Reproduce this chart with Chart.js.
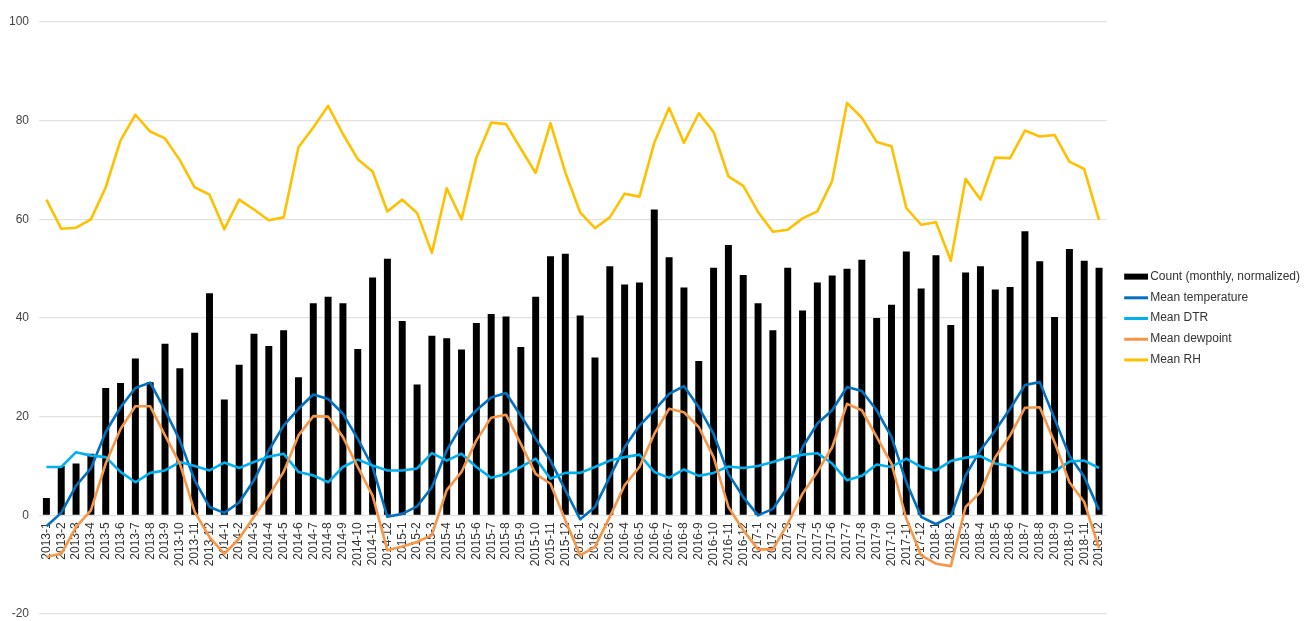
<!DOCTYPE html>
<html>
<head>
<meta charset="utf-8">
<title>Monthly count and weather</title>
<script src="https://cdn.jsdelivr.net/npm/chart.js@4.4.1/dist/chart.umd.min.js"></script>
<style>
  html, body { margin: 0; padding: 0; background: #fff; }
  #wrap { width: 1306px; height: 621px; }
</style>
</head>
<body>
<div id="wrap"><canvas id="chart" width="1306" height="621"></canvas></div>
<script>
const months = [
  '2013-1', '2013-2', '2013-3', '2013-4', '2013-5', '2013-6', '2013-7', '2013-8', '2013-9', '2013-10', '2013-11', '2013-12',
  '2014-1', '2014-2', '2014-3', '2014-4', '2014-5', '2014-6', '2014-7', '2014-8', '2014-9', '2014-10', '2014-11', '2014-12',
  '2015-1', '2015-2', '2015-3', '2015-4', '2015-5', '2015-6', '2015-7', '2015-8', '2015-9', '2015-10', '2015-11', '2015-12',
  '2016-1', '2016-2', '2016-3', '2016-4', '2016-5', '2016-6', '2016-7', '2016-8', '2016-9', '2016-10', '2016-11', '2016-12',
  '2017-1', '2017-2', '2017-3', '2017-4', '2017-5', '2017-6', '2017-7', '2017-8', '2017-9', '2017-10', '2017-11', '2017-12',
  '2018-1', '2018-2', '2018-3', '2018-4', '2018-5', '2018-6', '2018-7', '2018-8', '2018-9', '2018-10', '2018-11', '2018-12',
];

// count per month, already normalized
const countMonthly = [
  3.5, 10, 10.5, 12.5, 25.8, 26.8, 31.8, 27, 34.8, 29.8, 37, 45,
  23.5, 30.5, 36.8, 34.3, 37.5, 28, 43, 44.3, 43, 33.7, 48.2, 52,
  39.4, 26.5, 36.4, 35.9, 33.6, 39, 40.8, 40.3, 34.1, 44.3, 52.5, 53,
  40.5, 32, 50.5, 46.8, 47.2, 62, 52.3, 46.2, 31.3, 50.2, 54.8, 48.7,
  43, 37.5, 50.2, 41.5, 47.2, 48.6, 50, 51.8, 40, 42.7, 53.5, 46,
  52.7, 38.6, 49.2, 50.5, 45.8, 46.3, 57.6, 51.5, 40.2, 54, 51.6, 50.2,
];

const meanTemp = [
  -2.2, 0.5, 6, 9.5, 16.9, 21.9, 25.8, 26.9, 21.3, 15.2, 7.1, 1.7,
  0.5, 2.6, 7.1, 13.2, 18.2, 21.6, 24.5, 23.6, 20.6, 15.5, 9.8, -0.3,
  0.3, 1.8, 5.7, 13.2, 18.2, 21.3, 23.9, 24.8, 20.2, 15.5, 11.1, 5.1,
  -0.8, 1.7, 7.8, 13.8, 18.2, 21.3, 24.6, 26.2, 21.9, 16.5, 8.4, 3.7,
  0, 1.3, 5.7, 13.8, 18.6, 21.3, 26, 25.2, 21.3, 15.9, 6.7, -0.3,
  -1.8, -0.2, 8.1, 13.2, 17.2, 21.6, 26.4, 27, 19.6, 12.1, 7.8, 1.1,
];

const meanDTR = [
  9.8, 9.8, 12.8, 12.1, 11.8, 8.8, 6.7, 8.6, 9.1, 10.8, 10, 9.1,
  10.7, 9.6, 10.8, 11.9, 12.5, 8.8, 8.1, 6.7, 9.8, 11.3, 10.1, 9.1,
  9.1, 9.5, 12.6, 11.1, 12.5, 9.8, 7.6, 8.4, 9.8, 11.5, 7.4, 8.6,
  8.6, 9.8, 11.1, 11.8, 12.3, 8.8, 7.6, 9.3, 8, 8.6, 9.9, 9.6,
  10, 10.8, 11.7, 12.3, 12.6, 10.5, 7.1, 8, 10.3, 9.8, 11.5, 9.8,
  9.1, 11, 11.7, 12, 10.5, 10, 8.6, 8.6, 8.9, 10.9, 11.1, 9.6,
];

const meanDewpoint = [
  -8.4, -7.8, -2.4, 1, 10.5, 17.5, 22.1, 22.1, 16.2, 10.5, 0.7, -4.4,
  -7.8, -4.7, -0.3, 4, 8.8, 16.2, 20.1, 20, 15.9, 9.8, 4, -7.1,
  -6.3, -5.4, -4, 5.1, 8.8, 15.2, 19.8, 20.4, 14.5, 8.4, 6.4, -1,
  -8.1, -6.4, -0.3, 6.1, 9.8, 16.5, 21.6, 20.9, 17.9, 11.8, 1.7, -3,
  -6.9, -6.9, -1.7, 4.4, 8.8, 13.8, 22.6, 21.3, 15.9, 10.5, -0.7, -8.1,
  -9.8, -10.3, 1.7, 4.7, 11.8, 16.2, 21.8, 21.9, 14.8, 6.7, 2.7, -6.7,
];

const meanRH = [
  64, 58.1, 58.3, 60, 66.5, 76, 81.2, 77.8, 76.4, 72, 66.5, 65,
  58, 64, 62, 59.8, 60.4, 74.6, 78.6, 83, 77.3, 72.2, 69.7, 61.6,
  64, 61.3, 53.2, 66.3, 60, 72.5, 79.6, 79.3, 74.3, 69.4, 79.5, 69.5,
  61.4, 58.2, 60.4, 65.2, 64.6, 75.5, 82.6, 75.5, 81.5, 77.7, 68.7, 66.8,
  61.5, 57.5, 57.9, 60.2, 61.6, 67.8, 83.6, 80.6, 75.7, 74.8, 62.3, 58.9,
  59.4, 51.6, 68.2, 64, 72.5, 72.4, 78, 76.8, 77.1, 71.7, 70.2, 59.9,
];

const yTicks = [-20, 0, 20, 40, 60, 80, 100];

const FONT = "'Liberation Sans', Arial, sans-serif";

// legend swatch: transparent lead-in, then a 24px block (bars) or stroke (lines)
function swatch(color, thickness) {
  const c = document.createElement('canvas');
  c.width = 37;
  c.height = 8;
  const g = c.getContext('2d');
  g.fillStyle = color;
  g.fillRect(13, Math.round((8 - thickness) / 2), 24, thickness);
  return c;
}

const lineSeries = [
  { label: 'Mean temperature', data: meanTemp, color: '#0070C0' },
  { label: 'Mean DTR', data: meanDTR, color: '#00B0F0' },
  { label: 'Mean dewpoint', data: meanDewpoint, color: '#F79646' },
  { label: 'Mean RH', data: meanRH, color: '#FFC000' },
];

const datasets = [
  {
    type: 'bar',
    label: 'Count (monthly, normalized)',
    data: countMonthly,
    backgroundColor: '#000000',
    barPercentage: 0.47,
    categoryPercentage: 1,
    order: 10,
    swatch: swatch('#000000', 6),
  },
].concat(lineSeries.map((s, i) => ({
  type: 'line',
  label: s.label,
  data: s.data,
  borderColor: s.color,
  backgroundColor: s.color,
  borderWidth: 2.6,
  pointRadius: 0,
  tension: 0,
  fill: false,
  borderJoinStyle: 'round',
  order: 5 - i,
  swatch: swatch(s.color, 3),
})));

new Chart(document.getElementById('chart'), {
  type: 'bar',
  data: { labels: months, datasets: datasets },
  options: {
    responsive: false,
    animation: false,
    devicePixelRatio: 1,
    layout: { padding: { top: 22, bottom: 7, left: 0, right: -4 } },
    plugins: {
      tooltip: { enabled: false },
      legend: {
        position: 'right',
        align: 'center',
        labels: {
          usePointStyle: true,
          pointStyleWidth: 29,
          padding: 8.7,
          color: '#333',
          font: { family: FONT, size: 12 },
          generateLabels: (chart) =>
            chart.data.datasets.map((d, i) => ({
              text: d.label,
              pointStyle: d.swatch,
              fillStyle: 'transparent',
              strokeStyle: 'transparent',
              lineWidth: 0,
              datasetIndex: i,
              hidden: false,
              fontColor: '#333',
            })),
        },
      },
    },
    scales: {
      x: {
        position: { y: 0 },
        offset: true,
        grid: { display: false, drawTicks: false },
        border: { display: false },
        ticks: {
          autoSkip: false,
          minRotation: 90,
          maxRotation: 90,
          padding: 7,
          color: '#333',
          font: { family: FONT, size: 12 },
        },
      },
      y: {
        min: -20,
        max: 100,
        afterBuildTicks: (scale) => {
          scale.ticks = yTicks.map((v) => ({ value: v }));
        },
        afterFit: (scale) => {
          // fixed axis width, and don't let the tick padding eat the plot height
          scale.width = 39;
          scale.paddingTop = 0;
          scale.paddingBottom = 0;
        },
        grid: { color: '#e1e1e1', lineWidth: 1.2, drawTicks: false },
        border: { display: false },
        ticks: {
          padding: 10,
          color: '#444',
          font: { family: FONT, size: 12 },
        },
      },
    },
  },
});
</script>
</body>
</html>
